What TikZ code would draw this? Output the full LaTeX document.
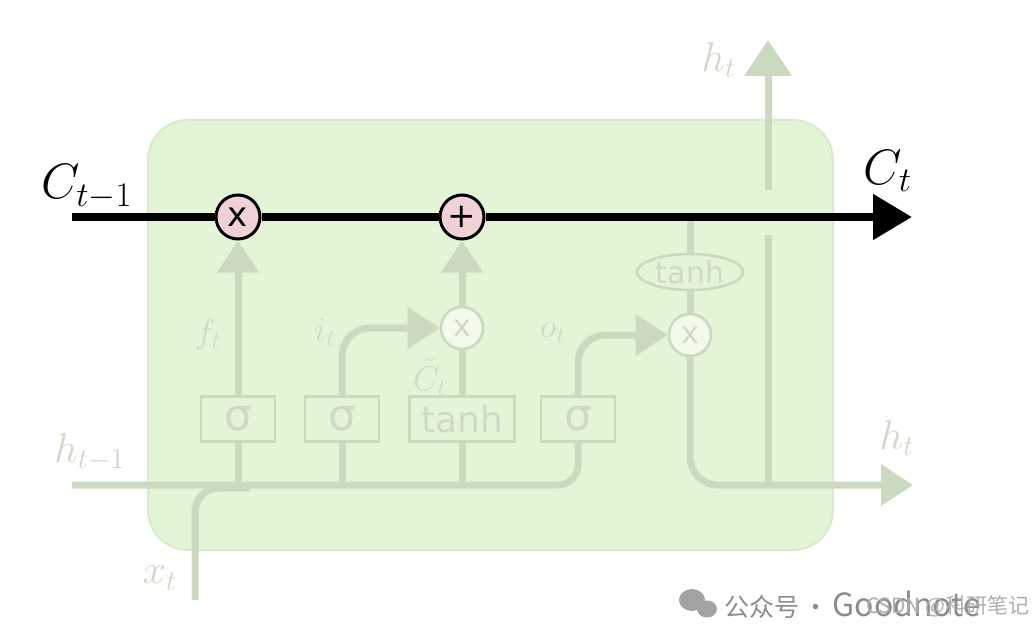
\documentclass[tikz,border=0pt]{standalone}
\usepackage{fontspec}
\newfontfamily\dv{DejaVu Sans}
\newfontfamily\cjk{Noto Sans CJK SC}
\usetikzlibrary{arrows.meta,shapes.geometric}
\definecolor{cellg}{HTML}{E4F4D6}
\definecolor{celle}{HTML}{D9EBCB}
\definecolor{pale}{HTML}{CBDABF}
\definecolor{palet}{HTML}{D0D9C8}
\definecolor{pinkc}{HTML}{F0D2D6}
\definecolor{wm}{HTML}{8C8C8C}
\tikzset{
  pl/.style={draw=pale, line width=3.5pt},
  pa/.style={pl, -{Triangle[width=20pt,length=16pt]}},
  gbox/.style={draw=pale, line width=1.3pt, fill=cellg, minimum height=22.5pt, minimum width=37pt, inner sep=0pt, text=palet, font=\dv\fontsize{18}{18}\selectfont},
  pcirc/.style={circle, draw=pale, line width=1.3pt, fill=cellg!50!white, minimum size=21pt, inner sep=0pt, text=palet, font=\dv\fontsize{15}{15}\selectfont},
  bcirc/.style={circle, draw=black, line width=1.5pt, fill=pinkc, minimum size=22pt, inner sep=0pt, font=\dv\fontsize{17}{17}\selectfont},
  cs/.style={draw=black, line width=4pt},
  lbl/.style={text=palet, font=\fontsize{21}{21}\selectfont, inner sep=0pt},
  slbl/.style={text=palet, font=\fontsize{18}{18}\selectfont, inner sep=0pt},
  blbl/.style={text=black, font=\fontsize{23.5}{23.5}\selectfont, inner sep=0pt},
}
\begin{document}
\begin{tikzpicture}[x=0.5pt,y=-0.5pt]
\useasboundingbox (0,0) rectangle (1034,626);
% cell
\draw[fill=cellg, draw=celle, line width=1pt, rounded corners=20pt] (148,120) rectangle (833,550);

% nodes
\node[bcirc] (mulf) at (238,217) {x};
\node[bcirc] (add) at (462,217) {+};
\node[gbox, font=\dv\fontsize{22}{22}\selectfont] (fbox) at (238,419) {σ};
\node[gbox, font=\dv\fontsize{22}{22}\selectfont] (ibox) at (342,419) {σ};
\node[gbox, minimum width=52.5pt] (tbox) at (462,419) {tanh};
\node[gbox, font=\dv\fontsize{22}{22}\selectfont] (obox) at (578,419) {σ};
\node[pcirc] (muli) at (462,328) {x};
\node[pcirc] (mulo) at (690,335) {x};
\node[ellipse, draw=pale, line width=1.3pt, fill=cellg, minimum width=53pt, minimum height=18pt, inner sep=0pt, text=palet, font=\dv\fontsize{15}{15}\selectfont] (otanh) at (690,272) {tanh};

\coordinate (cin) at (72,217);
\coordinate (cout) at (912,217);
\coordinate (ctap) at (690,217);
\coordinate (hin) at (72,485);
\coordinate (xin) at (195,600);
\coordinate (hout) at (913,485);
\coordinate (hupa) at (768,485);
\coordinate (hupb) at (768,235);
\coordinate (hupc) at (768,190);
\coordinate (hupd) at (768,40);

% pale connectors
\draw[pl, rounded corners=10pt] (hin) -- (578,485) -- (obox.south);
\draw[pl] (fbox.south) -- (238,485);
\draw[pl] (ibox.south) -- (342,485);
\draw[pl] (tbox.south) -- (462,485);
\draw[pl, rounded corners=12pt] (xin) -- (195,488) -- (250,488);
\draw[pa] (fbox.north) -- (mulf.south);
\draw[pa, rounded corners=14pt] (ibox.north) -- (342,328) -- (muli.west);
\draw[pl] (tbox.north) -- (muli.south);
\draw[pa] (muli.north) -- (add.south);
\draw[pa, rounded corners=14pt] (obox.north) -- (578,335) -- (mulo.west);
\draw[pl] (ctap) -- (otanh.north);
\draw[pl] (otanh.south) -- (mulo.north);
\draw[pa, rounded corners=14pt] (mulo.south) -- (690,485) -- (hout);
\draw[pl] (hupa) -- (hupb);
\draw[pl, -{Triangle[width=23pt,length=18pt]}] (hupc) -- (hupd);

% cell state
\draw[cs] (cin) -- (mulf);
\draw[cs] (mulf) -- (add);
\draw[cs, -{Triangle[width=22pt,length=19.5pt]}] (add) -- (cout);

% labels
\node[blbl] (lcin) at (87,187) {$C_{t-1}$};
\node[blbl] (lcout) at (888,171) {$C_t$};
\node[lbl] (lhtop) at (719,60) {$h_t$};
\node[lbl] (lhout) at (897,438) {$h_t$};
\node[lbl] (lhin) at (90,452) {$h_{t-1}$};
\node[lbl] (lxt) at (160,578) {$x_t$};
\node[slbl] (lft) at (208,335) {$f_t$};
\node[slbl] (lit) at (325,333) {$i_t$};
\node[slbl] (lct) at (430,377) {$\tilde{C}_t$};
\node[slbl] (lot) at (553,333) {$o_t$};

% watermark
\fill[wm!80] (692,600) ellipse (13 and 11);
\fill[wm!80] (707,609) ellipse (10 and 8.5);
\node[anchor=west, text=wm, inner sep=0pt] (wm1) at (724,605) {\cjk\fontsize{12.5}{12.5}\selectfont 公众号\,·\,\fontsize{16}{16}\selectfont Goodnote};
\node[anchor=east, text=wm!70, font=\cjk\fontsize{10.5}{10.5}\selectfont, inner sep=0pt] (wm2) at (1030,606) {CSDN @科研笔记};
\end{tikzpicture}
\end{document}
